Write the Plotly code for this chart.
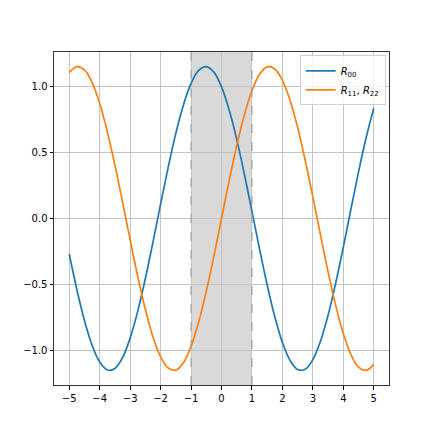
import plotly.graph_objects as go

# values, x step 0.25
x = [-5 + 0.25 * i for i in range(41)]
r00 = [-0.270, -0.539, -0.775, -0.963, -1.091, -1.151, -1.139, -1.057, -0.909, -0.704,
       -0.456, -0.179, 0.109, 0.390, 0.647, 0.863, 1.026, 1.125, 1.154, 1.112,
       1.000, 0.826, 0.601, 0.338, 0.055, -0.233, -0.505, -0.746, -0.941, -1.078,
       -1.147, -1.145, -1.072, -0.932, -0.734, -0.491, -0.217, 0.071, 0.354, 0.615,
       0.837]
r11 = [1.108, 1.154, 1.129, 1.034, 0.874, 0.660, 0.405, 0.125, -0.163, -0.441,
       -0.691, -0.899, -1.050, -1.136, -1.152, -1.096, -0.972, -0.787, -0.554, -0.286,
       0.0, 0.286, 0.554, 0.787, 0.972, 1.096, 1.152, 1.136, 1.050, 0.899,
       0.691, 0.441, 0.163, -0.125, -0.405, -0.660, -0.874, -1.034, -1.129, -1.154,
       -1.108]
band = [-1, 1]
xticks = list(range(-5, 6))
yticks = [-1.0, -0.5, 0.0, 0.5, 1.0]

fig = go.Figure()
fig.add_trace(go.Scatter(x=x, y=r00, mode="lines", line=dict(color="#1f77b4", width=1.7, shape="spline"),
                         name="<i>R</i><sub>00</sub>"))
fig.add_trace(go.Scatter(x=x, y=r11, mode="lines", line=dict(color="#ff7f0e", width=1.7, shape="spline"),
                         name="<i>R</i><sub>11</sub>, <i>R</i><sub>22</sub>"))

fig.add_vrect(x0=band[0], x1=band[1], fillcolor="#d9d9d9", line_width=0, layer="below")
for b in band:
    fig.add_vline(x=b, line=dict(color="#a0a0a0", width=1.2, dash="dash"), layer="above")

def fmt(v):
    return f"{v:.1f}".replace("-", "\u2212")

axis_common = dict(showline=True, linecolor="#333333", linewidth=1, mirror=True,
                   ticks="outside", ticklen=3.5, tickcolor="black", tickwidth=0.8,
                   showgrid=True, gridcolor="#c4c4c4", gridwidth=1, zeroline=False,
                   tickfont=dict(size=10, color="black"))

# page body has an 8px margin, so the plot box is shifted back by that much
fig.update_layout(
    width=432, height=433,
    margin=dict(l=46, r=51, t=44, b=56),
    plot_bgcolor="white", paper_bgcolor="white",
    font=dict(family="DejaVu Sans", size=10, color="black"),
    xaxis=dict(range=[-5.5, 5.5], tickvals=xticks,
               ticktext=[str(t).replace("-", "\u2212") for t in xticks], **axis_common),
    yaxis=dict(range=[-1.265, 1.265], tickvals=yticks,
               ticktext=[fmt(t) for t in yticks], **axis_common),
    legend=dict(x=0.99, y=0.99, xanchor="right", yanchor="top",
                bgcolor="rgba(255,255,255,0.8)", bordercolor="#d0d0d0", borderwidth=1,
                font=dict(size=10), tracegroupgap=0),
    showlegend=True,
)

fig.write_html("out.html")
